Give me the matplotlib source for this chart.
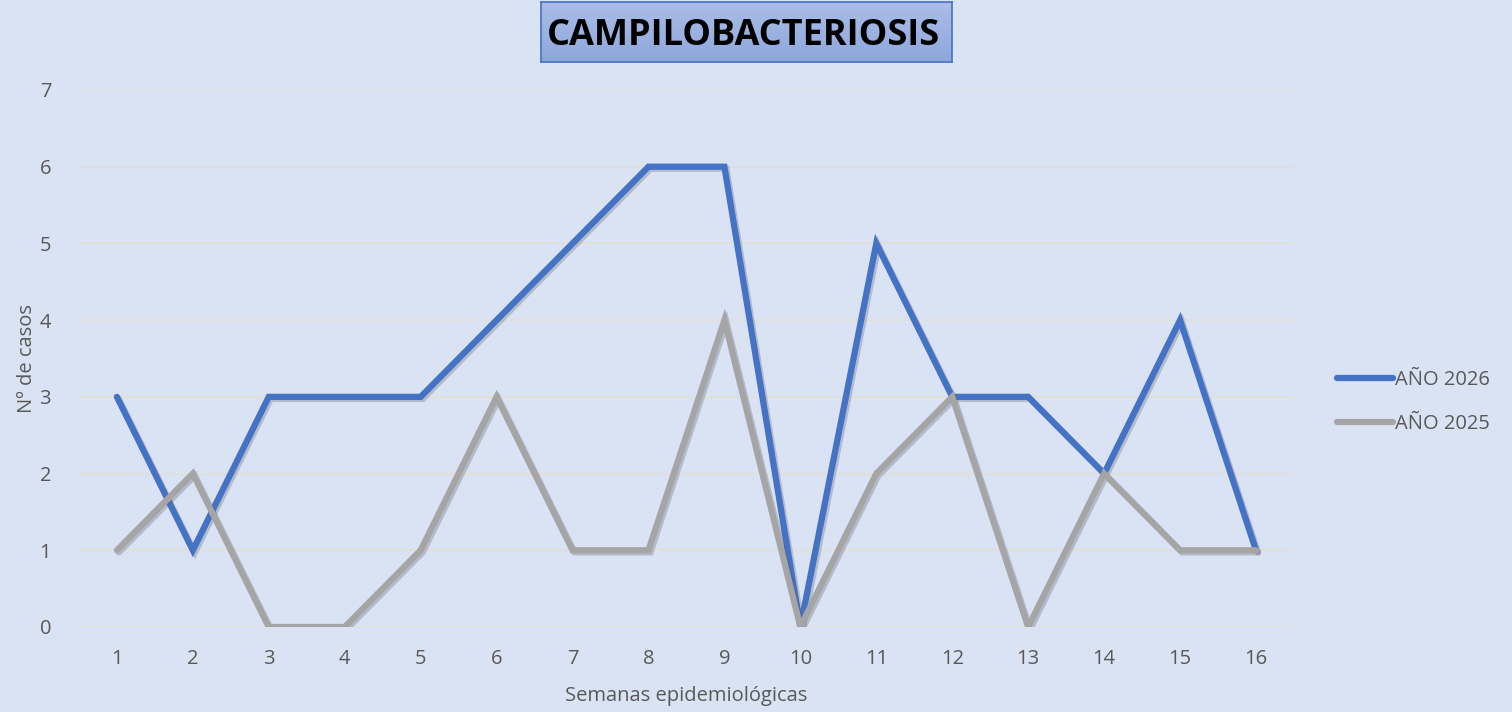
import matplotlib
matplotlib.use("Agg")
import matplotlib.pyplot as plt
import matplotlib.patheffects as pe
import numpy as np
from matplotlib.lines import Line2D
from matplotlib.colors import LinearSegmentedColormap

weeks = list(range(1, 17))
y2026 = [3, 1, 3, 3, 3, 4, 5, 6, 6, 0, 5, 3, 3, 2, 4, 1]
y2025 = [1, 2, 0, 0, 1, 3, 1, 1, 4, 0, 2, 3, 0, 2, 1, 1]
labels = ["AÑO 2026", "AÑO 2025"]
title = "CAMPILOBACTERIOSIS"

bg = "#DAE3F3"
txt = "#595959"
c26 = "#4472C4"
c25 = "#A5A5A5"
fs = 14.5

plt.rcParams['font.family'] = ['Open Sans', 'DejaVu Sans']
fig = plt.figure(figsize=(15.12, 7.12), dpi=100, facecolor=bg)
ax = fig.add_axes([0.0522, 0.1194, 0.8036, 0.7542], facecolor=bg)

shadow = [pe.SimpleLineShadow(offset=(1.5, -1.5), shadow_color="#5a6070", alpha=0.3), pe.Normal()]
ax.plot(weeks, y2026, color=c26, lw=4.5, solid_joinstyle='miter', solid_capstyle='round',
        path_effects=shadow, zorder=3)
ax.plot(weeks, y2025, color=c25, lw=4.5, solid_joinstyle='miter', solid_capstyle='round',
        path_effects=shadow, zorder=4)

ax.set_xlim(0.5, 16.5)
ax.set_ylim(0, 7)
ax.set_xticks(weeks)
ax.set_yticks(range(0, 8))
ax.tick_params(axis='x', length=0, labelsize=fs, labelcolor=txt, pad=16)
ax.tick_params(axis='y', length=0, labelsize=fs, labelcolor=txt, pad=20)
ax.grid(axis='y', color="#E3DFD8", lw=1.2)
ax.set_axisbelow(True)
for s in ax.spines.values():
    s.set_visible(False)
ax.axhline(0, color="#E3DFD8", lw=1.2, zorder=1)

ax.set_xlabel("Semanas epidemiológicas", fontsize=fs, color=txt, labelpad=12)
ax.set_ylabel("Nº de casos", fontsize=fs, color=txt, labelpad=2)

handles = [Line2D([0], [0], color=c26, lw=4.5, solid_capstyle='round'),
           Line2D([0], [0], color=c25, lw=4.5, solid_capstyle='round')]
fig.legend(handles, labels, loc='center left', bbox_to_anchor=(0.872, 0.435), frameon=False,
           fontsize=fs, labelcolor=txt, handlelength=2.8, handletextpad=0.1, labelspacing=1.2)

# title box with gradient
tax = fig.add_axes([541/1512, 1-62/712, 411/1512, 60/712])
cmap = LinearSegmentedColormap.from_list("g", ["#8EA7DC", "#ABBDE7"])
tax.imshow(np.linspace(0, 1, 64).reshape(-1, 1), aspect='auto', cmap=cmap, origin='lower',
           extent=[0, 1, 0, 1])
tax.set_xticks([]); tax.set_yticks([])
for s in tax.spines.values():
    s.set_color(c26); s.set_linewidth(1.2)
tax.text(0.493, 0.44, title, ha='center', va='center', fontsize=26, fontweight='bold',
         color='black', transform=tax.transAxes)

fig.savefig("out.png", dpi=100, facecolor=bg)
